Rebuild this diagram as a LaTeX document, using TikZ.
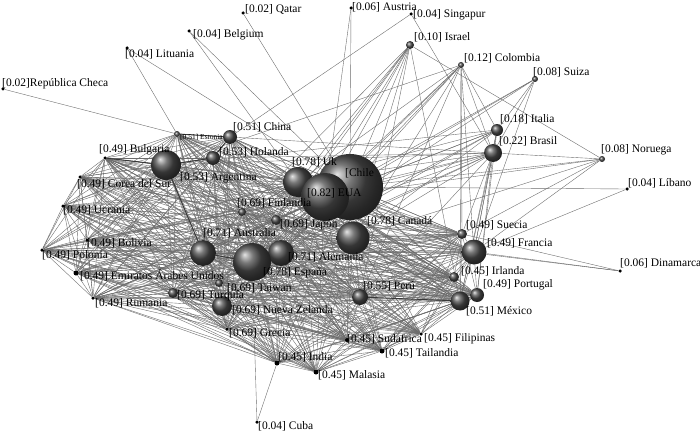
\documentclass[tikz,border=0pt]{standalone}
\usepackage{fontspec}
\setmainfont{Liberation Serif}
\usetikzlibrary{backgrounds}
\tikzset{
  ball/.style={circle, inner sep=0pt, draw=none, ball color=black!70},
  dot/.style={circle, inner sep=0pt, fill=black, minimum size=3.5pt},
  lbl/.style={anchor=west, inner sep=0pt, font=\fontsize{11.5}{12}\selectfont},
  smalllbl/.style={anchor=west, inner sep=0pt, font=\fontsize{7.5}{8}\selectfont},
  edge/.style={draw=black!58, line width=0.38pt},
  darkedge/.style={draw=black!78, line width=0.9pt}
}
\begin{document}
\begin{tikzpicture}[x=1pt,y=-1pt]
\useasboundingbox (0,0) rectangle (700,433);
% ---- balls and dots
\node[dot] (qatar) at (243,13) {};
\node[dot] (austria) at (351,8) {};
\node[dot] (singapur) at (411,14) {};
\node[dot] (belgium) at (189,31) {};
\node[dot] (lituania) at (127,48) {};
\node[dot] (checa) at (3,89) {};
\node[ball,minimum size=8pt] (israel) at (410,45) {};
\node[ball,minimum size=6pt] (colombia) at (461,65) {};
\node[ball,minimum size=6pt] (suiza) at (535,79) {};
\node[ball,minimum size=12pt] (italia) at (497,130) {};
\node[ball,minimum size=18pt] (brasil) at (493,153) {};
\node[ball,minimum size=6pt] (noruega) at (602,159) {};
\node[dot] (libano) at (627,189) {};
\node[dot] (dinamarca) at (620,271) {};
\node[ball,minimum size=10pt] (suecia) at (462,234) {};
\node[ball,minimum size=25pt] (francia) at (474,252) {};
\node[ball,minimum size=10pt] (irlanda) at (454,277) {};
\node[ball,minimum size=14pt] (portugal) at (477,295) {};
\node[ball,minimum size=19pt] (mexico) at (460,301) {};
\node[ball,minimum size=16pt] (peru) at (360,297) {};
\node[ball,minimum size=33pt] (canada) at (353,238) {};
\node[ball,minimum size=66pt] (chile) at (350,187) {};
\node[ball,minimum size=30pt] (uk) at (298,182) {};
\node[ball,minimum size=48pt] (eua) at (325,197) {};
\node[ball,minimum size=8pt] (finlandia) at (242,212) {};
\node[ball,minimum size=10pt] (japon) at (276,220) {};
\node[ball,minimum size=26pt] (australia) at (203,253) {};
\node[ball,minimum size=26pt] (alemania) at (281,253) {};
\node[ball,minimum size=38pt] (espana) at (252,262) {};
\node[ball,minimum size=8pt] (taiwan) at (219,283) {};
\node[ball,minimum size=10pt] (turquia) at (173,293) {};
\node[ball,minimum size=20pt] (nz) at (222,306) {};
\node[dot] (grecia) at (227,329) {};
\node[dot,minimum size=5pt] (india) at (277,363) {};
\node[dot,minimum size=5pt] (malasia) at (316,372) {};
\node[dot,minimum size=5pt] (tailandia) at (382,351) {};
\node[dot,minimum size=4pt] (sudafrica) at (347,340) {};
\node[dot] (filipinas) at (421,334) {};
\node[dot] (cuba) at (257,422) {};
\node[dot] (rumania) at (93,298) {};
\node[dot] (polonia) at (42,250) {};
\node[dot] (bolivia) at (87,240) {};
\node[dot] (ucrania) at (63,206) {};
\node[dot] (corea) at (80,177) {};
\node[dot] (bulgaria) at (105,158) {};
\node[dot,minimum size=5pt] (emiratos) at (76,273) {};
\node[ball,minimum size=30pt] (argentina) at (166,165) {};
\node[ball,minimum size=14pt] (holanda) at (213,158) {};
\node[ball,minimum size=14pt] (china) at (230,137) {};
\node[ball,minimum size=6pt] (estonia) at (177,134) {};
% ---- labels
\node[lbl] (lqatar) at (245,9) {[0.02] Qatar};
\node[lbl] (laustria) at (352,7) {[0.06] Austria};
\node[lbl] (lsingapur) at (413,15) {[0.04] Singapur};
\node[lbl] (lbelgium) at (193,35) {[0.04] Belgium};
\node[lbl] (llituania) at (125,54) {[0.04] Lituania};
\node[lbl] (lcheca) at (2,84) {[0.02]República Checa};
\node[lbl] (lisrael) at (414,37) {[0.10] Israel};
\node[lbl] (lcolombia) at (464,58) {[0.12] Colombia};
\node[lbl] (lsuiza) at (533,72) {[0.08] Suiza};
\node[lbl] (litalia) at (500,119) {[0.18] Italia};
\node[lbl] (lbrasil) at (499,141) {[0.22] Brasil};
\node[lbl] (lnoruega) at (601,150) {[0.08] Noruega};
\node[lbl] (llibano) at (628,183) {[0.04] Líbano};
\node[lbl] (ldinamarca) at (620,263) {[0.06] Dinamarca};
\node[lbl] (lsuecia) at (466,225) {[0.49] Suecia};
\node[lbl] (lfrancia) at (487,243) {[0.49] Francia};
\node[lbl] (lirlanda) at (461,271) {[0.45] Irlanda};
\node[lbl] (lportugal) at (483,285) {[0.49] Portugal};
\node[lbl] (lmexico) at (466,311) {[0.51] México};
\node[lbl] (lperu) at (363,286) {[0.55] Perú};
\node[lbl] (lcanada) at (367,221) {[0.78] Canadá};
\node[lbl] (lchile) at (345,173) {[Chile};
\node[lbl] (leua) at (307,193) {[0.82] EUA};
\node[lbl] (luk) at (292,162) {[0.78] Uk};
\node[lbl] (lfinlandia) at (237,203) {[0.69] Finlandia};
\node[lbl] (ljapon) at (280,225) {[0.69] Japón};
\node[lbl] (laustralia) at (203,233) {[0.71] Australia};
\node[lbl] (lespana) at (263,273) {[0.78] España};
\node[lbl] (lalemania) at (288,257) {[0.71] Alemania};
\node[lbl] (ltaiwan) at (227,288) {[0.69] Taiwan};
\node[lbl] (lturquia) at (177,296) {[0.69] Turquía};
\node[lbl] (lnz) at (232,310) {[0.69] Nueva Zelanda};
\node[lbl] (lgrecia) at (229,333) {[0.69] Grecia};
\node[lbl] (lindia) at (278,357) {[0.45] India};
\node[lbl] (lmalasia) at (318,375) {[0.45] Malasia};
\node[lbl] (ltailandia) at (385,353) {[0.45] Tailandia};
\node[lbl] (lsudafrica) at (347,339) {[0.45] Sudafrica};
\node[lbl] (lfilipinas) at (424,339) {[0.45] Filipinas};
\node[lbl] (lcuba) at (258,426) {[0.04] Cuba};
\node[lbl] (lrumania) at (95,303) {[0.49] Rumania};
\node[lbl] (lpolonia) at (42,255) {[0.49] Polonia};
\node[lbl] (lbolivia) at (87,243) {[0.49] Bolivia};
\node[lbl] (lucrania) at (63,210) {[0.49] Ucrania};
\node[lbl] (lcorea) at (77,184) {[0.49] Corea del Sur};
\node[lbl] (lbulgaria) at (99,150) {[0.49] Bulgaria};
\node[lbl] (lemiratos) at (80,275) {[0.49] Emiratos Árabes Unidos};
\node[lbl] (largentina) at (180,178) {[0.53] Argentina};
\node[lbl] (lholanda) at (219,152) {[0.53] Holanda};
\node[lbl] (lchina) at (233,127) {[0.51] China};
\node[smalllbl] (lestonia) at (180,137) {[0.51] Estonia};
% ---- connectors
\begin{pgfonlayer}{background}
\fill[white] (0,0) rectangle (700,433);
\def\corelist{bulgaria,corea,ucrania,polonia,bolivia,emiratos,rumania,turquia,taiwan,nz,grecia,india,malasia,sudafrica,tailandia,filipinas,peru,mexico,portugal,irlanda,francia,suecia,canada,chile,eua,uk,japon,finlandia,alemania,espana,australia,argentina,holanda,china,estonia}
\foreach \a [count=\i] in \corelist {
  \foreach \b [count=\j] in \corelist {
    \ifnum\j>\i \draw[edge] (\a) -- (\b); \fi
  }
}
\foreach \b in {chile,eua,uk,canada,alemania,espana,australia,peru,mexico,noruega,japon}
  \draw[edge] (israel) -- (\b);
\foreach \b in {suecia,chile,eua,canada,espana,alemania,peru,mexico,francia,italia,brasil,uk,argentina}
  \draw[edge] (colombia) -- (\b);
\foreach \b in {brasil,italia,chile,eua,espana,francia}
  \draw[edge] (suiza) -- (\b);
\foreach \b in {brasil,chile,eua,canada,suecia,francia}
  \draw[edge] (noruega) -- (\b);
\foreach \b in {chile,eua,uk,canada,espana,alemania,australia,argentina,holanda,china,francia,mexico,peru,suecia,italia,portugal,singapur}
  \draw[edge] (brasil) -- (\b);
\foreach \b in {chile,eua,uk,canada,espana,alemania,argentina,francia,mexico,portugal}
  \draw[edge] (italia) -- (\b);
\foreach \b in {chile,francia} \draw[edge] (libano) -- (\b);
\foreach \b in {suecia,francia,canada} \draw[edge] (dinamarca) -- (\b);
\draw[edge] (singapur) -- (china);
\foreach \b in {chile,eua} \draw[edge] (austria) -- (\b);
\draw[edge] (qatar) -- (chile);
\foreach \b in {uk,chile} \draw[edge] (belgium) -- (\b);
\foreach \b in {estonia,chile} \draw[edge] (lituania) -- (\b);
\draw[edge] (checa) -- (estonia);
\foreach \b in {espana,india} \draw[edge] (cuba) -- (\b);
% darker links
\draw[darkedge] (bulgaria) -- (argentina);
\draw[darkedge] (argentina) -- (holanda);
\draw[darkedge] (holanda) -- (china);
\draw[darkedge] (estonia) -- (china);
\draw[darkedge] (peru) -- (mexico);
\draw[darkedge] (australia) -- (espana);
\draw[darkedge] (espana) -- (alemania);
\draw[darkedge] (argentina) -- (australia);
\end{pgfonlayer}
\end{tikzpicture}
\end{document}
